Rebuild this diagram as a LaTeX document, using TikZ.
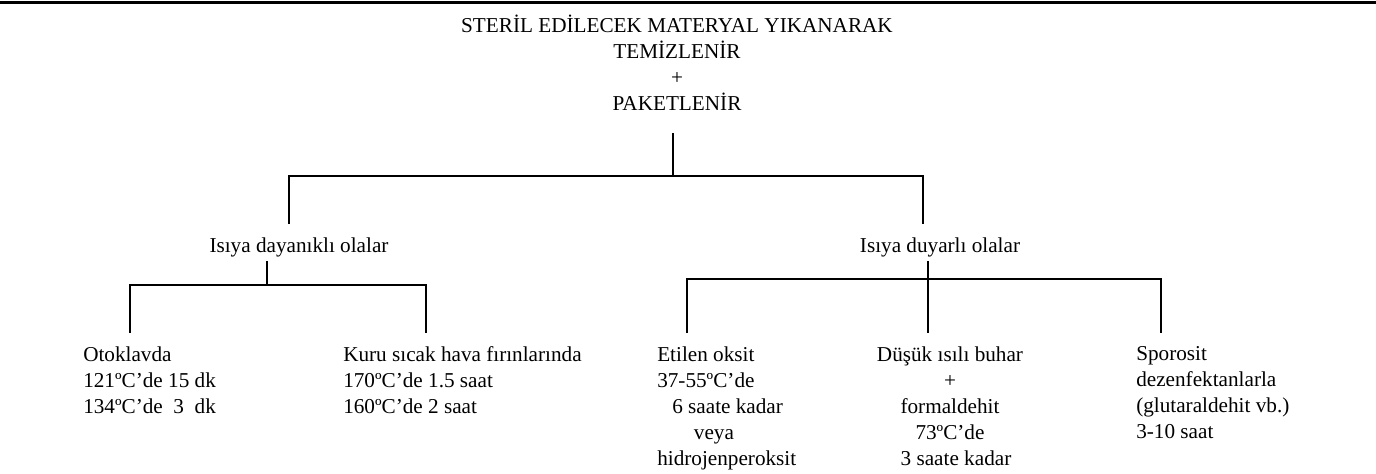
\documentclass[tikz,border=0pt]{standalone}
\usepackage{fontspec}
\setmainfont{Liberation Serif}
\begin{document}
\begin{tikzpicture}[x=0.75pt,y=-0.75pt,
  txt/.style={inner sep=0pt, font=\fontsize{15.9}{19.5}\selectfont},
  conn/.style={line width=1.3pt},
  rule/.style={line width=2.4pt}]
\useasboundingbox (0,0) rectangle (1376,474);
% top rule
\coordinate (rl) at (0,2.5);
\coordinate (rr) at (1376,2.5);
\draw[rule] (rl) -- (rr);
% title
\node[txt, anchor=base] (title) at (677,33) {\begin{tabular}[t]{@{}c@{}}STERİL EDİLECEK MATERYAL YIKANARAK\\TEMİZLENİR\\+\\PAKETLENİR\end{tabular}};
% level 1
\node[txt, anchor=base] (hot) at (299,252) {Isıya dayanıklı olalar};
\node[txt, anchor=base] (sens) at (940,252) {Isıya duyarlı olalar};
\coordinate (t0) at (673,133);
\coordinate (j0) at (673,176);
\coordinate (ja) at (289,176);
\coordinate (jb) at (923,176);
\coordinate (ea) at (289,224);
\coordinate (eb) at (923,224);
\draw[conn] (t0) -- (j0);
\draw[conn] (ea) -- (ja) -- (jb) -- (eb);
% level 2 left
\node[txt, anchor=base west] (oto) at (83,361) {\begin{tabular}[t]{@{}l@{}}Otoklavda\\121ºC’de 15 dk\\134ºC’de\ \ 3\ \ dk\end{tabular}};
\node[txt, anchor=base west] (kuru) at (343,361) {\begin{tabular}[t]{@{}l@{}}Kuru sıcak hava fırınlarında\\170ºC’de 1.5 saat\\160ºC’de 2 saat\end{tabular}};
\coordinate (h0) at (267,261);
\coordinate (h1) at (267,285);
\coordinate (hl) at (130,285);
\coordinate (hr) at (426,285);
\coordinate (hl2) at (130,333);
\coordinate (hr2) at (426,333);
\draw[conn] (h0) -- (h1);
\draw[conn] (hl2) -- (hl) -- (hr) -- (hr2);
% level 2 right
\node[txt, anchor=base west] (eto) at (657,361) {\begin{tabular}[t]{@{}l@{}}Etilen oksit\\37-55ºC’de\\\hspace*{11.25pt}6 saate kadar\\\hspace*{27.5pt}veya\\hidrojenperoksit\end{tabular}};
\node[txt, anchor=base] (dus) at (950,361) {\begin{tabular}[t]{@{}c@{}}Düşük ısılı buhar\\+\\formaldehit\\73ºC’de\\\hspace*{9pt}3 saate kadar\end{tabular}};
\node[txt, anchor=base west] (spo) at (1136,360) {\begin{tabular}[t]{@{}l@{}}Sporosit\\dezenfektanlarla\\(glutaraldehit vb.)\\3-10 saat\end{tabular}};
\coordinate (s0) at (928,261);
\coordinate (s1) at (928,279);
\coordinate (s2) at (928,333);
\coordinate (sl) at (687,279);
\coordinate (sr) at (1161,279);
\coordinate (sl2) at (687,333);
\coordinate (sr2) at (1161,333);
\draw[conn] (s0) -- (s1) -- (s2);
\draw[conn] (sl2) -- (sl) -- (sr) -- (sr2);
\end{tikzpicture}
\end{document}
